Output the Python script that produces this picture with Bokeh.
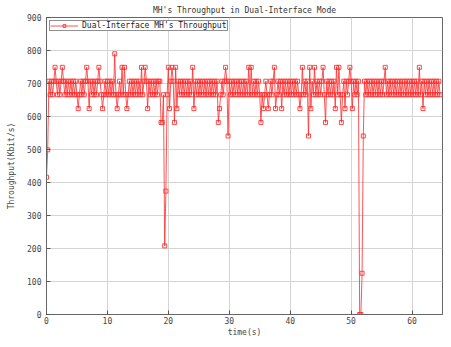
from bokeh.plotting import figure
from bokeh.models import Range1d, FixedTicker, Legend, LegendItem, ColumnDataSource
from bokeh.embed import file_html
from bokeh.resources import INLINE

title_text = "MH's Throughput in Dual-Interface Mode"
series_name = "Dual-Interface MH's Throughput"
x_label = "time(s)"
y_label = "Throughput(Kbit/s)"
x_ticks = [0, 10, 20, 30, 40, 50, 60]
y_ticks = [0, 100, 200, 300, 400, 500, 600, 700, 800, 900]

sample_interval_s = 0.2  # one throughput sample every 0.2 s

throughput = [
    416, 499, 707, 666, 707, 666, 707, 749, 707, 666, 707, 666, 707, 749, 707, 666, 707, 666, 707, 666,
    707, 666, 707, 666, 707, 666, 624, 666, 707, 666, 707, 666, 707, 749, 707, 624, 707, 666, 707, 666,
    707, 666, 707, 749, 707, 666, 624, 666, 707, 666, 707, 666, 707, 666, 707, 666, 790, 666, 624, 666,
    707, 666, 749, 666, 749, 666, 624, 666, 707, 666, 707, 666, 707, 666, 707, 666, 707, 666, 749, 666,
    707, 749, 707, 624, 707, 666, 707, 666, 707, 666, 707, 666, 707, 707, 582, 582, 666, 208, 374, 666,
    749, 624, 707, 749, 707, 582, 749, 624, 707, 666, 707, 666, 707, 666, 707, 666, 707, 666, 707, 666,
    749, 624, 707, 666, 707, 666, 707, 666, 707, 666, 707, 666, 707, 666, 707, 666, 707, 666, 707, 666,
    707, 582, 624, 666, 707, 666, 707, 749, 707, 541, 707, 666, 707, 666, 707, 666, 707, 666, 707, 666,
    707, 666, 707, 666, 707, 666, 749, 666, 749, 666, 707, 666, 707, 666, 707, 666, 582, 666, 624, 666,
    707, 666, 624, 666, 707, 666, 707, 749, 624, 666, 707, 666, 707, 624, 707, 666, 707, 666, 707, 666,
    707, 666, 707, 666, 707, 666, 707, 666, 624, 666, 749, 666, 707, 666, 707, 541, 749, 624, 707, 666,
    749, 666, 707, 666, 707, 666, 707, 749, 666, 582, 707, 666, 707, 666, 707, 666, 707, 624, 749, 666,
    749, 666, 582, 666, 707, 624, 707, 666, 707, 749, 707, 624, 707, 666, 707, 666, 707, 0, 0, 125,
    541, 707, 666, 707, 666, 707, 666, 707, 666, 707, 666, 707, 666, 707, 666, 707, 666, 707, 749, 666,
    707, 666, 707, 666, 707, 666, 707, 666, 707, 666, 707, 666, 707, 666, 707, 666, 707, 666, 707, 666,
    707, 666, 707, 666, 707, 666, 749, 666, 707, 624, 707, 666, 707, 666, 707, 666, 707, 666, 707, 666,
    707, 666, 707, 666,
]

time_s = [i * sample_interval_s for i in range(len(throughput))]
src = ColumnDataSource(data=dict(t=time_s, v=throughput))

MONO = "DejaVu Sans Mono"
RED = "#ff2a2a"

p = figure(width=443, height=339, output_backend="svg", toolbar_location=None,
           x_range=Range1d(0, 65), y_range=Range1d(0, 900),
           min_border_left=46, min_border_right=1, min_border_top=0, min_border_bottom=0,
           background_fill_color="white", border_fill_color="white")

p.title.text = title_text
p.title.align = "center"
p.title.text_font = MONO
p.title.text_font_size = "8px"
p.title.text_font_style = "normal"
p.title.text_color = "#333333"
p.title.standoff = 6
p.title.offset = 0

for ax in (p.xaxis[0], p.yaxis[0]):
    ax.axis_line_color = "#666666"
    ax.major_tick_line_color = "#555555"
    ax.major_tick_in = 4
    ax.major_tick_out = 0
    ax.minor_tick_line_color = None
    ax.major_label_text_font = MONO
    ax.major_label_text_font_size = "8px"
    ax.major_label_text_color = "#444444"
    ax.axis_label_text_font = MONO
    ax.axis_label_text_font_size = "8px"
    ax.axis_label_text_font_style = "normal"
    ax.axis_label_text_color = "#444444"

p.xaxis.ticker = FixedTicker(ticks=x_ticks)
p.yaxis.ticker = FixedTicker(ticks=y_ticks)
p.xaxis.axis_label = x_label
p.yaxis.axis_label = y_label
p.xaxis.major_label_standoff = 2
p.yaxis.major_label_standoff = 5
p.xaxis.axis_label_standoff = 1
p.yaxis.axis_label_standoff = 8

p.xgrid.grid_line_color = "#d4d4d4"
p.ygrid.grid_line_color = "#d4d4d4"
p.outline_line_color = "#666666"

line_r = p.line("t", "v", source=src, line_color=RED, line_width=1, line_alpha=0.8)
pts_r = p.scatter("t", "v", source=src, marker="square", size=4,
                  line_color=RED, line_alpha=0.85, fill_color=None)

legend = Legend(items=[LegendItem(label=series_name, renderers=[line_r, pts_r])],
                location="top_left", orientation="vertical")
legend.label_text_font = MONO
legend.label_text_font_size = "8px"
legend.label_text_color = "#222222"
legend.label_height = 7
legend.glyph_height = 7
legend.glyph_width = 28
legend.label_standoff = 4
legend.padding = 0
legend.spacing = 0
legend.margin = 3
legend.border_line_color = "#222222"
legend.border_line_width = 1
legend.background_fill_color = "white"
legend.background_fill_alpha = 1
p.add_layout(legend)

open("out.html", "w").write(file_html(p, INLINE))
